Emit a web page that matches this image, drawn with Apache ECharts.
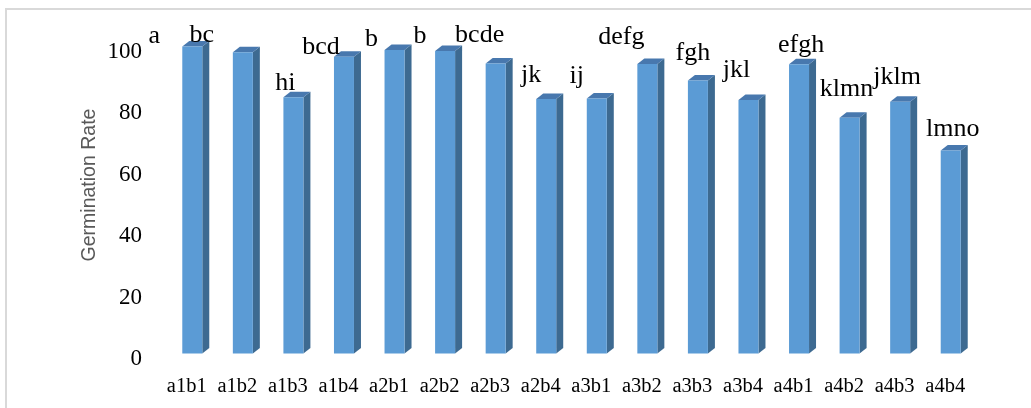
<!DOCTYPE html>
<html>
<head>
<meta charset="utf-8">
<script src="https://cdn.jsdelivr.net/npm/echarts@6/dist/echarts.min.js"></script>
<style>
  html, body { margin: 0; padding: 0; background: #ffffff; }
  #chart { width: 1031px; height: 408px; }
</style>
</head>
<body>
<div id="chart"></div>
<script>
// Treatment combinations (factor a x factor b)
const treatments = ['a1b1', 'a1b2', 'a1b3', 'a1b4', 'a2b1', 'a2b2', 'a2b3', 'a2b4',
                    'a3b1', 'a3b2', 'a3b3', 'a3b4', 'a4b1', 'a4b2', 'a4b3', 'a4b4'];

// Germination rate (%) per treatment
const germinationRate = [100, 98.1, 83.5, 96.7, 98.9, 98.5, 94.5, 82.9,
                         83.1, 94.3, 88.9, 82.6, 94.2, 76.8, 82.0, 66.1];

// Duncan significance groups
const significanceLetters = ['a', 'bc', 'hi', 'bcd', 'b', 'b', 'bcde', 'jk',
                             'ij', 'defg', 'fgh', 'jkl', 'efgh', 'klmn', 'jklm', 'lmno'];

// Value axis range
const yMin = 0;
const yMax = 100;
const yStep = 20;

// Hand placement of each group letter relative to its bar top (px)
const letterNudge = [[-38, 3], [-41, -4], [-8, -1], [-23, 4], [-23, 2], [-25, -2], [-16, -15], [-15, -11],
                     [-20, -9], [-26, -14], [-5, -14], [-12, -17], [2, -6], [-3, -16], [-3, -12], [2, -8]];

// 3D bar styling
const FRONT_W = 20;
const DEPTH_X = 7;
const DEPTH_Y = 5.5;
const FRONT_COLOR = '#5B9BD5';
const SIDE_COLOR = '#3D6A91';
const TOP_COLOR = '#4878AE';
const SERIF = "'Liberation Serif', 'Times New Roman', serif";

const chart = echarts.init(document.getElementById('chart'), null, { renderer: 'canvas' });

const option = {
  animation: false,
  backgroundColor: '#ffffff',
  grid: { left: 167, right: 55, top: 46.5, bottom: 54.5, containLabel: false },
  graphic: [
    {
      type: 'rect',
      shape: { x: 6, y: 9, width: 1100, height: 500 },
      style: { fill: 'none', stroke: '#D9D9D9', lineWidth: 2 },
      silent: true
    },
    {
      type: 'text',
      x: 90, y: 185,
      rotation: Math.PI / 2,
      style: {
        text: 'Germination Rate',
        font: "19.5px 'Liberation Sans', Arial, sans-serif",
        fill: '#595959',
        textAlign: 'center',
        textVerticalAlign: 'middle'
      },
      silent: true
    }
  ],
  xAxis: {
    type: 'category',
    data: treatments,
    axisLine: { show: false },
    axisTick: { show: false },
    axisLabel: {
      margin: 23,
      interval: 0,
      formatter: v => '{t|' + v + '}',
      rich: {
        // names sit slightly left of the bar fronts, on the floor of the 3D plot
        t: { fontFamily: SERIF, fontSize: 20.5, color: '#000000', padding: [0, 11, 0, 0] }
      }
    }
  },
  yAxis: {
    type: 'value',
    min: yMin,
    max: yMax,
    interval: yStep,
    axisLine: { show: false },
    axisTick: { show: false },
    splitLine: { show: false },
    axisLabel: {
      margin: 25,
      formatter: v => '{n|' + v + '}',
      rich: {
        // numbers sit a little below their value level, as on the floor of the 3D plot
        n: { fontFamily: SERIF, fontSize: 23, color: '#000000', padding: [11, 0, 0, 0] }
      }
    }
  },
  series: [
    {
      // side and top faces giving the bars depth
      type: 'custom',
      z: 1,
      data: germinationRate.map((v, i) => [i, v]),
      renderItem: function (params, api) {
        const top = api.coord([api.value(0), api.value(1)]);
        const base = api.coord([api.value(0), 0]);
        const cx = top[0], yt = top[1], yb = base[1];
        const h = FRONT_W / 2;
        return {
          type: 'group',
          children: [
            {
              type: 'polygon',
              shape: { points: [[cx + h, yb], [cx + h + DEPTH_X, yb - DEPTH_Y], [cx + h + DEPTH_X, yt - DEPTH_Y], [cx + h, yt]] },
              style: { fill: SIDE_COLOR }
            },
            {
              type: 'polygon',
              shape: { points: [[cx - h, yt], [cx + h, yt], [cx + h + DEPTH_X, yt - DEPTH_Y], [cx - h + DEPTH_X, yt - DEPTH_Y]] },
              style: { fill: TOP_COLOR }
            }
          ]
        };
      }
    },
    {
      // front faces, with the significance letters
      type: 'bar',
      z: 2,
      barWidth: FRONT_W,
      data: germinationRate.map((v, i) => ({ value: v, label: { offset: letterNudge[i] } })),
      itemStyle: { color: FRONT_COLOR },
      label: {
        show: true,
        position: 'top',
        distance: 0,
        fontFamily: SERIF,
        fontSize: 26,
        color: '#000000',
        formatter: p => significanceLetters[p.dataIndex]
      }
    }
  ]
};

chart.setOption(option);
</script>
</body>
</html>
